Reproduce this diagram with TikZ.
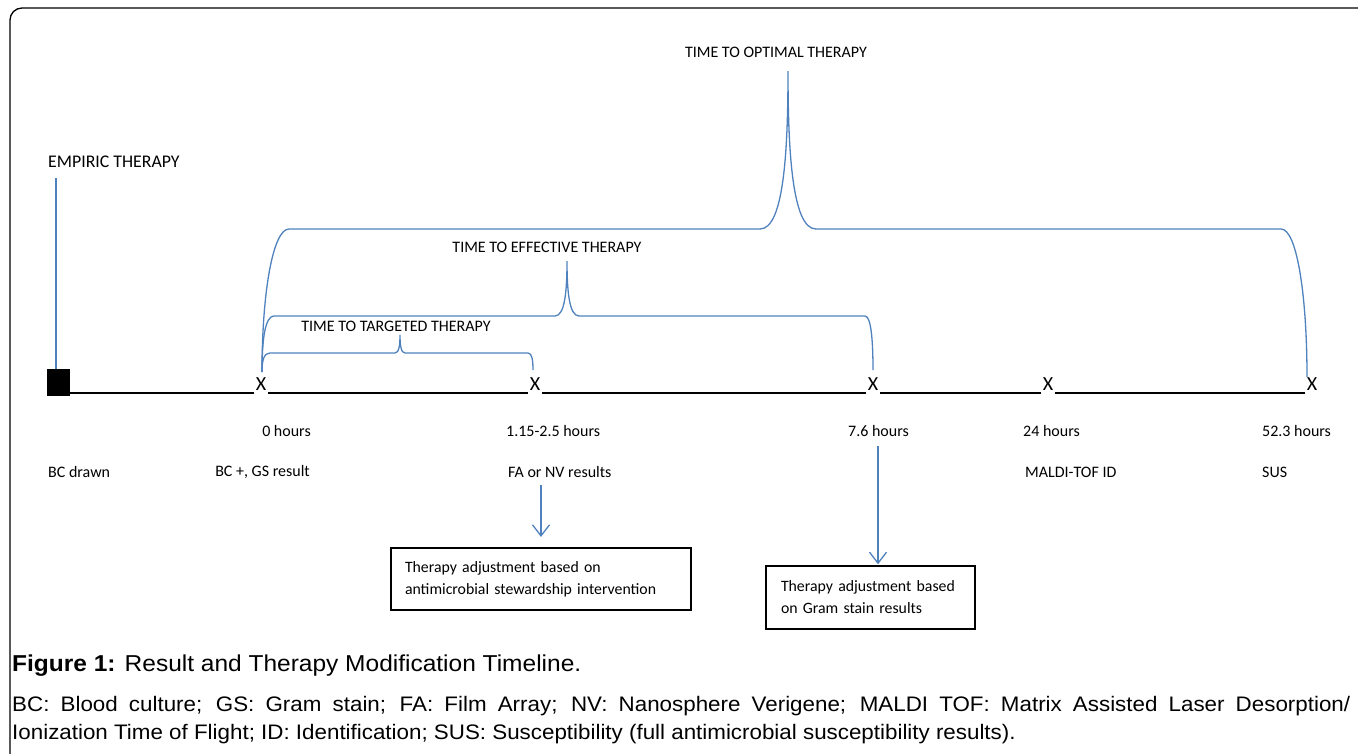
\documentclass[tikz,border=0pt]{standalone}
\usepackage{fontspec}
\setmainfont{Carlito}
\newfontfamily\capfont[FakeStretch=1.065]{Liberation Sans}
\usetikzlibrary{arrows.meta}
\definecolor{obl}{RGB}{79,129,189}
\begin{document}
\begin{tikzpicture}[x=1pt,y=-1pt,
  lbl/.style={anchor=west,inner sep=0pt,font=\fontsize{16}{19}\selectfont},
  lble/.style={anchor=east,inner sep=0pt,font=\fontsize{16}{19}\selectfont},
  ttl/.style={anchor=center,inner sep=0pt,font=\fontsize{16}{19}\selectfont},
  xm/.style={anchor=base,inner xsep=1.5pt,inner ysep=0pt,font=\fontsize{20}{22}\selectfont},
  tl/.style={line width=1.1pt,black},
  br/.style={draw=obl,line width=1.3pt},
  arr/.style={draw=obl,line width=1.6pt,-{Straight Barb[length=11pt,width=17pt,line width=1.3pt]}},
  tbox/.style={draw=black,align=left,inner ysep=0pt,font=\fontsize{15.8}{22}\selectfont},
  captxt/.style={anchor=west,inner sep=0pt,font=\capfont\fontsize{21}{26}\selectfont},
  caphead/.style={anchor=west,inner sep=0pt,font=\capfont\fontsize{23}{28}\selectfont}
]
\useasboundingbox (0,0) rectangle (1358,753);
\clip (0,0) rectangle (1358,753);
% frame
\draw[line width=1.3pt,rounded corners=12pt] (10,800) -- (10,8) -- (1400,8);

% empiric therapy
\node[anchor=west,inner sep=0pt,font=\fontsize{17.8}{20}\selectfont] (emp) at (48,162) {EMPIRIC THERAPY};
\node[fill=black,minimum width=23pt,minimum height=27pt,inner sep=0pt] (sq) at (58.5,382.5) {};
\coordinate (empl) at (56,178);
\draw[draw=obl,line width=1.8pt] (empl) -- (sq.north -| empl);

% X markers
\node[xm] (x0) at (261,390) {X};
\node[xm] (x1) at (535,390) {X};
\node[xm] (x2) at (873,390) {X};
\node[xm] (x3) at (1048,390) {X};
\node[xm] (x4) at (1312,390) {X};

% timeline
\draw[tl] ([yshift=-3pt]sq.east |- x0.base) -- ([yshift=-3pt]x0.base west);
\draw[tl] ([yshift=-3pt]x0.base east) -- ([yshift=-3pt]x1.base west);
\draw[tl] ([yshift=-3pt]x1.base east) -- ([yshift=-3pt]x2.base west);
\draw[tl] ([yshift=-3pt]x2.base east) -- ([yshift=-3pt]x3.base west);
\draw[tl] ([yshift=-3pt]x3.base east) -- ([yshift=-3pt]x4.base west);

% labels row 1
\node[lble] (h0) at (311,431) {0 hours};
\node[lbl] (h1) at (506,431) {1.15-2.5 hours};
\node[lbl] (h2) at (848,431) {7.6 hours};
\node[lbl] (h3) at (1023,431) {24 hours};
\node[lbl] (h4) at (1262,431) {52.3 hours};
% labels row 2
\node[lbl] (e0) at (48,472) {BC drawn};
\node[lble] (e1) at (310,472) {BC +, GS result};
\node[lbl] (e2) at (508,472) {FA or NV results};
\node[lbl] (e3) at (1025,472) {MALDI-TOF ID};
\node[lbl] (e4) at (1262,472) {SUS};

% brace titles
\node[ttl] (topt) at (776,52) {TIME TO OPTIMAL THERAPY};
\node[ttl] (teff) at (547,247) {TIME TO EFFECTIVE THERAPY};
\node[ttl] (ttar) at (396,326) {TIME TO TARGETED THERAPY};

% brace: optimal
\draw[br] (262,372) .. controls (262,292) and (273,229) .. (289,229)
  -- (760,229) .. controls (784,229) and (788,150) .. (788,71)
  .. controls (788,150) and (792,229) .. (816,229)
  -- (1281,229) .. controls (1297,229) and (1307,296) .. (1307,377);
% brace: effective
\draw[br] (262,372) .. controls (262,340) and (265,316) .. (274,316)
  -- (555,316) .. controls (565,316) and (567,290) .. (567,261)
  .. controls (567,290) and (569,316) .. (579,316)
  -- (865,316) .. controls (871,316) and (873,340) .. (873,370);
% brace: targeted
\draw[br] (262,372) .. controls (262,360) and (264,353) .. (270,353)
  -- (395,353) .. controls (399,353) and (400,345) .. (400,335)
  .. controls (400,345) and (401,353) .. (405,353)
  -- (528,353) .. controls (532,353) and (533,360) .. (533,370);

% boxes
\node[tbox,line width=2.2pt,minimum width=300pt,minimum height=62pt,text width=272pt,inner xsep=14pt] (b1) at (541,579)
  {Therapy adjustment based on\\antimicrobial stewardship intervention};
\node[tbox,line width=1.5pt,minimum width=209pt,minimum height=63pt,text width=179pt,inner xsep=15pt] (b2) at (870.5,597.5)
  {Therapy adjustment based\\on Gram stain results\\[4pt]};

% arrows
\coordinate (a1) at (541,485);
\coordinate (a2) at (878,446);
\draw[arr] (a1) -- ([yshift=10pt]b1.north -| a1);
\draw[arr] (a2) -- ([yshift=1pt]b2.north -| a2);

% caption
\node[caphead] (c1) at (12,666) {\textbf{Figure 1:} Result and Therapy Modification Timeline.};
\node[captxt] (c2) at (12,706) {\makebox[1338pt][s]{BC: Blood culture; GS: Gram stain; FA: Film Array; NV: Nanosphere Verigene; MALDI TOF: Matrix Assisted Laser Desorption/}};
\node[captxt] (c3) at (12,734) {Ionization Time of Flight; ID: Identification; SUS: Susceptibility (full antimicrobial susceptibility results).};
\end{tikzpicture}
\end{document}
